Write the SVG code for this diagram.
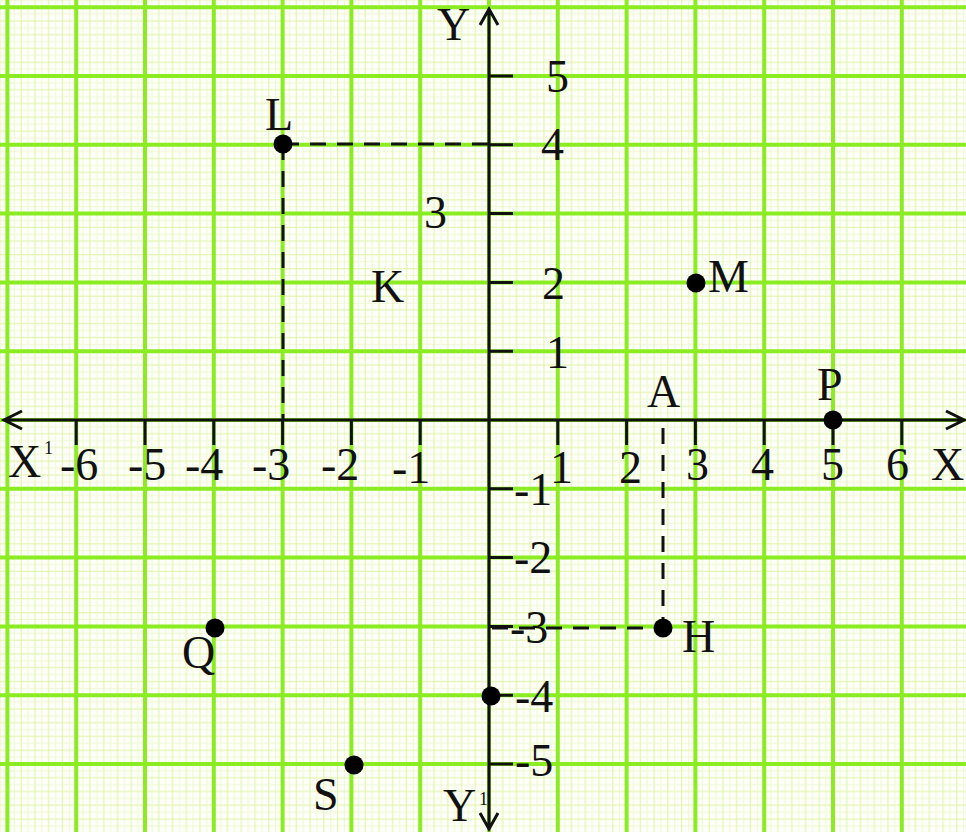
<svg xmlns="http://www.w3.org/2000/svg" width="966" height="832" viewBox="0 0 966 832">
<style>
.t{font-family:"Liberation Serif","Times New Roman",serif;font-size:46px;fill:#111}
.sup{font-family:"Liberation Serif","Times New Roman",serif;font-size:18px;fill:#111}
.major{stroke:#8cec22;stroke-width:4;fill:none}
.axis{stroke:#111;stroke-width:3;fill:none}
.tick{stroke:#111;stroke-width:3}
.dash{stroke:#111;stroke-width:3;stroke-dasharray:16 11;fill:none}
.pt{fill:#000}
</style>
<defs>
<pattern id="fine" patternUnits="userSpaceOnUse" x="485.56" y="416.56" width="68.8" height="68.8">
<path d="M10.32 0V68.8M24.08 0V68.8M37.84 0V68.8M51.6 0V68.8M65.36 0V68.8M0 10.32H68.8M0 24.08H68.8M0 37.84H68.8M0 51.6H68.8M0 65.36H68.8" stroke="#eff8d4" stroke-width="1"/>
<path d="M17.2 0V68.8M30.96 0V68.8M44.72 0V68.8M58.48 0V68.8M0 17.2H68.8M0 30.96H68.8M0 44.72H68.8M0 58.48H68.8" stroke="#dff2a8" stroke-width="1"/>
</pattern>
</defs>
<rect width="966" height="832" fill="#fdfff8"/>
<rect width="966" height="832" fill="url(#fine)"/>
<g id="grid-major">
<path class="major" d="M7.4 0V832M76.2 0V832M145 0V832M213.8 0V832M282.6 0V832M351.4 0V832M420.2 0V832M489 0V832M557.8 0V832M626.6 0V832M695.4 0V832M764.2 0V832M833 0V832M901.8 0V832"/>
<path class="major" d="M0 7.2H966M0 76H966M0 144.8H966M0 213.6H966M0 282.4H966M0 351.2H966M0 420H966M0 488.8H966M0 557.6H966M0 626.4H966M0 695.2H966M0 764H966"/>
</g>
<g id="axes">
<path class="axis" d="M4 420H964M22 411L4 420L22 429M946 411L964 420L946 429"/>
<path class="axis" d="M489 9V829M480 25L489 9L498 25M480 813L489 829L498 813"/>
<path class="tick" d="M76.2 420V445M145 420V445M213.8 420V445M282.6 420V445M351.4 420V445M420.2 420V445M557.8 420V445M626.6 420V445M695.4 420V445M764.2 420V445M833 420V445M901.8 420V445"/>
<path class="tick" d="M489 76H513M489 144.8H513M489 213.6H513M489 282.4H513M489 351.2H513M489 488.8H513M489 557.6H513M489 626.4H513M489 695.2H513M489 764H513"/>
</g>
<g id="axis-labels">
<text class="t" x="437" y="40">Y</text>
<text class="t" x="443" y="821">Y</text><text class="sup" x="479" y="805">1</text>
<text class="t" x="8" y="477">X</text><text class="sup" x="44" y="454">1</text>
<text class="t" x="931" y="480">X</text>
<text class="t" x="60" y="480">-6</text>
<text class="t" x="128" y="480">-5</text>
<text class="t" x="185" y="480">-4</text>
<text class="t" x="252" y="480">-3</text>
<text class="t" x="321" y="480">-2</text>
<text class="t" x="392" y="483">-1</text>
<text class="t" x="550" y="483">1</text>
<text class="t" x="619" y="483">2</text>
<text class="t" x="686" y="480">3</text>
<text class="t" x="751" y="480">4</text>
<text class="t" x="821" y="480">5</text>
<text class="t" x="886" y="480">6</text>
<text class="t" x="546" y="92">5</text>
<text class="t" x="541" y="160">4</text>
<text class="t" x="424" y="228">3</text>
<text class="t" x="542" y="299">2</text>
<text class="t" x="546" y="368">1</text>
<text class="t" x="514" y="505">-1</text>
<text class="t" x="514" y="573">-2</text>
<text class="t" x="510" y="643">-3</text>
<text class="t" x="515" y="712">-4</text>
<text class="t" x="515" y="776">-5</text>
</g>
<g id="connectors">
<path class="dash" d="M283 144H489"/>
<path class="dash" d="M283 144V420"/>
<path class="dash" d="M663 428V628"/>
<path class="dash" d="M492 628H663"/>
</g>
<g id="L"><circle class="pt" cx="283" cy="144" r="9.5"/><text class="t" x="265" y="130">L</text></g>
<g id="K"><text class="t" x="371" y="302">K</text></g>
<g id="M"><circle class="pt" cx="696" cy="283" r="9.5"/><text class="t" x="708" y="292">M</text></g>
<g id="A"><text class="t" x="647" y="407">A</text></g>
<g id="P"><circle class="pt" cx="833" cy="420" r="9.5"/><text class="t" x="817" y="400">P</text></g>
<g id="H"><circle class="pt" cx="663" cy="628" r="9.5"/><text class="t" x="682" y="652">H</text></g>
<g id="Q"><circle class="pt" cx="215" cy="628" r="9.5"/><text class="t" x="182" y="668">Q</text></g>
<g id="S"><circle class="pt" cx="354" cy="765" r="9.5"/><text class="t" x="313" y="810">S</text></g>
<g id="N"><circle class="pt" cx="491" cy="696" r="9.5"/></g>
</svg>
